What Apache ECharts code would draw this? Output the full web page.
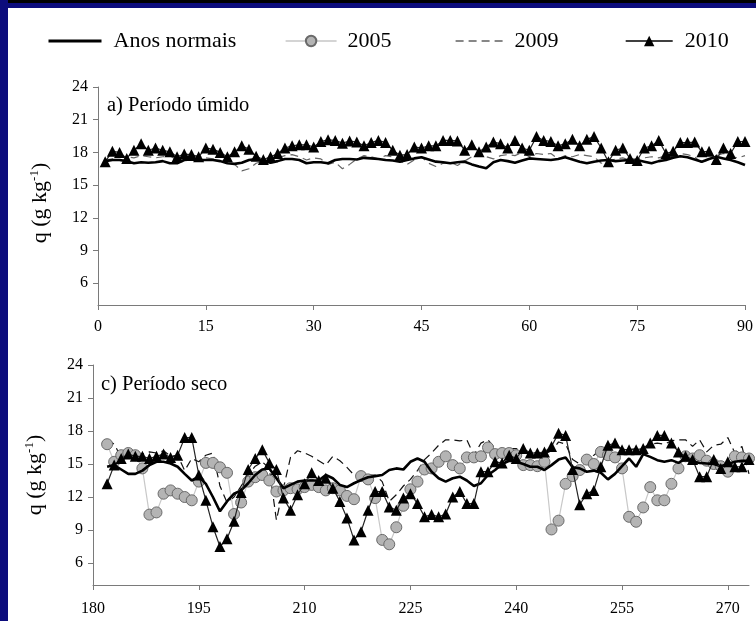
<!DOCTYPE html>
<html>
<head>
<meta charset="utf-8">
<script src="https://cdn.jsdelivr.net/npm/echarts@6/dist/echarts.min.js"></script>
<style>
  html, body { margin: 0; padding: 0; background: #fff; }
  #chart { width: 756px; height: 621px; }
</style>
</head>
<body>
<div id="chart"></div>
<script>
  // a) Período úmido, dias 1..90
  const wetStart = 1
  const wetNormais = [
    17.2, 17.3, 17.3, 17.2, 17.0, 17.1, 17.05, 17.1, 17.2, 17.0,
    17.0, 17.3, 17.35, 17.3, 17.3, 17.3, 17.2, 17.0, 16.95, 17.05,
    17.3, 17.4, 17.2, 17.05, 17.2, 17.4, 17.4, 17.3, 17.0, 17.1,
    17.1, 17.0, 17.3, 17.4, 17.4, 17.35, 17.5, 17.45, 17.4, 17.3,
    17.25, 17.15, 17.3, 17.45, 17.55, 17.35, 17.15, 17.1, 17.0, 17.1,
    17.15, 16.9, 16.7, 16.55, 17.1, 17.3, 17.2, 17.05, 17.25, 17.45,
    17.4, 17.35, 17.3, 17.4, 17.55, 17.35, 17.15, 17.0, 17.15, 17.25,
    17.3, 17.2, 17.25, 17.3, 17.3, 17.15, 17.0, 17.2, 17.3, 17.5,
    17.65, 17.55, 17.35, 17.15, 17.4, 17.6, 17.45, 17.3, 17.1, 16.85
  ]
  const wet2009 = [
    17.3, 17.4, 17.6, 17.6, 17.5, 17.7, 17.6, 17.5, 17.6, 17.7,
    17.3, 17.5, 17.6, 17.7, 17.5, 17.4, 17.2, 17.1, 16.9, 16.3,
    16.5, 17.0, 17.2, 17.3, 17.5, 17.7, 17.8, 17.6, 17.3, 17.5,
    17.4, 16.9, 17.1, 16.5, 16.9, 17.4, 17.7, 17.6, 17.4, 17.7,
    17.6, 17.2, 16.9, 17.3, 17.6, 17.0, 16.7, 17.0, 17.1, 16.8,
    17.2, 17.6, 18.0, 17.6, 17.4, 17.7, 17.8, 17.7, 18.0, 17.6,
    17.9, 17.8, 17.9, 17.4, 17.7, 17.6, 17.8, 17.7, 17.6, 17.0,
    17.2, 17.4, 17.5, 17.3, 17.4, 17.5, 17.6, 17.5, 17.7, 17.6,
    17.9, 17.8, 17.6, 17.0, 17.4, 17.7, 17.9, 17.6, 17.5, 17.7
  ]
  const wet2010 = [
    17.15, 18.1, 18.0, 17.45, 18.2, 18.8, 18.2, 18.4, 18.2, 18.05,
    17.6, 17.85, 17.8, 17.6, 18.4, 18.3, 18.0, 17.6, 18.05, 18.6,
    18.3, 17.65, 17.35, 17.6, 17.9, 18.4, 18.6, 18.7, 18.7, 18.5,
    19.0, 19.15, 19.1, 18.85, 19.05, 18.95, 18.6, 18.9, 19.1, 18.9,
    18.2, 17.75, 17.8, 18.5, 18.4, 18.6, 18.6, 19.1, 19.1, 19.05,
    18.2, 18.7, 18.05, 18.5, 18.95, 18.8, 18.4, 19.1, 18.4, 18.2,
    19.45, 19.1, 19.0, 18.6, 18.8, 19.2, 18.6, 19.2, 19.45, 18.4,
    17.15, 18.2, 18.4, 17.45, 17.25, 18.4, 18.6, 19.1, 17.9, 18.1,
    18.9, 18.9, 18.95, 18.05, 18.1, 17.35, 18.4, 17.9, 19.0, 19.0
  ]

  // c) Período seco, dias 182..273
  const dryStart = 182
  const dryNormais = [
    14.75, 14.9, 14.5, 14.1, 14.1, 14.4, 14.9, 15.2, 15.2, 15.05,
    14.75, 14.1, 13.5, 13.85, 13.2, 12.0, 10.7, 11.6, 12.3, 12.6,
    13.25, 14.0, 14.5, 14.6, 13.7, 12.8, 13.1, 13.4, 13.5, 13.5,
    13.5, 14.0, 13.7, 13.1, 12.9, 13.25, 13.55, 13.8, 13.9, 14.0,
    14.45, 14.6, 14.5, 15.2, 15.5, 15.2, 14.3, 13.7, 13.4, 13.7,
    13.85, 13.5, 13.0, 13.25, 14.0, 14.45, 15.0, 15.3, 15.2, 15.0,
    14.75, 14.75, 14.45, 14.9, 15.4, 15.6, 14.7, 14.6, 14.3, 14.4,
    14.2, 13.6, 14.1, 14.8, 15.5, 14.75, 15.9, 15.65, 15.35, 15.2,
    15.35, 15.1, 15.5, 15.2, 15.1, 15.05, 15.0, 14.8, 15.0, 15.2,
    15.3, 15.3
  ]
  const dry2005 = [
    16.8, 15.2, 15.8, 16.0, 15.8, 14.6, 10.4, 10.6, 12.3, 12.6,
    12.3, 12.0, 11.7, 13.4, 15.1, 15.1, 14.7, 14.2, 10.45, 11.5,
    13.4, 13.8, 14.0, 13.5, 12.5, 12.6, 12.8, 12.7, 12.9, 13.1,
    12.9, 12.6, 12.8, 12.6, 12.1, 11.8, 13.9, 13.6, 11.9, 8.1,
    7.7, 9.25, 11.2, 12.7, 13.4, 14.5, 14.6, 15.2, 15.7, 14.9,
    14.6, 15.6, 15.6, 15.7, 16.5, 15.9, 16.0, 16.0, 15.8, 14.9,
    14.9, 14.8, 15.2, 9.05, 9.85, 13.2, 13.9, 14.45, 15.4, 15.0,
    16.1, 15.8, 15.6, 14.6, 10.2, 9.75, 11.05, 12.9, 11.7, 11.7,
    13.2, 14.6, 15.7, 15.5, 15.8, 15.3, 15.0, 14.8, 14.3, 15.7,
    15.6, 15.5
  ]
  const dry2009 = [
    17.2, 16.8, 15.6, 15.9, 16.0, 15.9, 16.1, 16.0, 16.2, 15.7,
    15.8, 14.4, 15.5, 15.2, 15.8, 16.0, 13.0, 11.5, 12.0, 13.0,
    14.0, 14.8, 15.2, 14.6, 9.9, 12.8, 15.6, 16.2, 16.0, 15.7,
    15.3, 14.9, 15.7, 15.3, 14.7, 14.0, 13.8, 14.0, 14.0, 13.4,
    11.6, 12.2, 13.0, 13.6, 14.4, 15.4, 16.0, 16.7, 17.2, 17.2,
    17.1, 17.2, 15.8, 16.9, 17.2, 16.4, 16.2, 16.4, 16.4, 16.0,
    16.1, 16.0, 15.9, 16.2, 17.0, 16.8, 15.4, 15.0, 15.6, 15.8,
    16.3, 16.5, 16.6, 16.4, 16.3, 16.4, 16.5, 16.8, 16.9, 16.8,
    17.1, 17.2, 17.2, 16.6, 17.2, 16.1, 16.7, 16.8, 17.4, 16.0,
    16.6, 14.1
  ]
  const dry2010 = [
    13.2, 14.9, 15.5, 15.9, 15.7, 15.7, 15.5, 15.7, 15.9, 15.6,
    15.8, 17.4, 17.4, 14.0, 11.7, 9.3, 7.5, 8.2, 9.8, 12.4,
    14.5, 15.5, 16.3, 15.1, 14.5, 11.9, 10.8, 12.2, 13.2, 14.2,
    13.5, 13.7, 12.8, 11.6, 10.1, 8.1, 8.85, 10.8, 12.5, 12.5,
    11.1, 10.8, 11.9, 12.3, 11.4, 10.2, 10.4, 10.2, 10.45, 12.0,
    12.5, 11.4, 11.4, 14.3, 14.3, 15.2, 15.1, 15.8, 15.5, 16.4,
    16.0, 16.0, 16.1, 16.6, 17.8, 17.6, 14.5, 11.3, 12.3, 12.6,
    14.75, 16.7, 16.9, 16.3, 16.3, 16.3, 16.4, 16.9, 17.6, 17.6,
    16.9, 16.1, 15.7, 15.4, 13.85, 13.85, 15.4, 14.6, 15.2, 14.75,
    14.75, 15.4
  ]

  const yTicks = [6, 9, 12, 15, 18, 21, 24]
  const legendNames = ['Anos normais', '2005', '2009', '2010']

  function pairs(start, values) {
    return values.map((v, i) => [start + i, v])
  }

  const serif = 'Liberation Serif'
  const axisColor = '#7a7a7a'
  const myChart = echarts.init(document.getElementById('chart'), null, {renderer: 'canvas'})

  function xAxisOf(gridIndex, min, max, margin) {
    return {
      type: 'value', gridIndex: gridIndex, min: min, max: max, interval: 15,
      axisLine: {show: true, lineStyle: {color: axisColor, width: 1}},
      axisTick: {show: true, length: 5, lineStyle: {color: axisColor}},
      axisLabel: {
        color: '#000', fontFamily: serif, fontSize: 16, margin: margin,
        showMaxLabel: max % 15 === 0
      },
      splitLine: {show: false}
    }
  }
  function yAxisOf(gridIndex, shift) {
    return {
      type: 'value', gridIndex: gridIndex, min: 4, max: 24,
      name: '{a|q (g kg}{s|-1}{a|)}',
      nameLocation: 'middle', nameGap: 46, nameRotate: 90,
      nameTextStyle: {
        padding: [0, shift, 0, 0],
        rich: {
          a: {fontFamily: serif, fontSize: 22, color: '#000', lineHeight: 24},
          s: {fontFamily: serif, fontSize: 13, color: '#000', verticalAlign: 'top', lineHeight: 12}
        }
      },
      axisLine: {show: true, lineStyle: {color: axisColor, width: 1}},
      axisTick: {show: true, length: 5, customValues: yTicks, lineStyle: {color: axisColor}},
      axisLabel: {color: '#000', fontFamily: serif, fontSize: 16, margin: 10, customValues: yTicks},
      splitLine: {show: false}
    }
  }

  function normaisSeries(ax, data) {
    return {
      name: 'Anos normais', type: 'line', xAxisIndex: ax, yAxisIndex: ax, data: data,
      symbol: 'none', z: 4, lineStyle: {color: '#000', width: 2.6}, itemStyle: {color: '#000'}
    }
  }
  function s2005(ax, data) {
    return {
      name: '2005', type: 'line', xAxisIndex: ax, yAxisIndex: ax, data: data,
      symbol: 'circle', symbolSize: 11, z: 3,
      lineStyle: {color: '#c8c8c8', width: 1.2},
      itemStyle: {color: '#b4b4b4', borderColor: '#6a6a6a', borderWidth: 1}
    }
  }
  function s2009(ax, data, color) {
    return {
      name: '2009', type: 'line', xAxisIndex: ax, yAxisIndex: ax, data: data,
      symbol: 'none', z: 2,
      lineStyle: {color: color, width: 1.2, type: [8, 5]}, itemStyle: {color: color}
    }
  }
  function s2010(ax, data) {
    return {
      name: '2010', type: 'line', xAxisIndex: ax, yAxisIndex: ax, data: data,
      symbol: 'triangle', symbolSize: 11, z: 5,
      lineStyle: {color: '#222', width: 1.2}, itemStyle: {color: '#000'}
    }
  }

  function legendOf(name, left, width, pad, noSymbol, lineStyle) {
    const item = {name: name}
    if (noSymbol) item.itemStyle = {color: 'transparent', borderWidth: 0}
    if (lineStyle) item.lineStyle = lineStyle
    return {
      data: [item], left: left, top: 30, padding: 0, itemWidth: width, itemHeight: 13,
      selectedMode: false,
      textStyle: {fontFamily: serif, fontSize: 22, color: '#000', padding: [0, 0, 0, pad]}
    }
  }

  const option = {
    backgroundColor: '#fff',
    animation: false,
    graphic: [
      {type: 'rect', left: 0, top: 0, shape: {width: 756, height: 8}, style: {fill: '#0c0c7c'}},
      {type: 'rect', left: 0, top: 0, shape: {width: 756, height: 3}, style: {fill: '#000'}},
      {type: 'rect', left: 0, top: 0, shape: {width: 8, height: 621}, style: {fill: '#0c0c7c'}},
      {type: 'text', left: 107, top: 95, style: {text: 'a) Período úmido', font: '20.5px "Liberation Serif"', fill: '#000'}},
      {type: 'text', left: 101, top: 374, style: {text: 'c) Período seco', font: '20.5px "Liberation Serif"', fill: '#000'}}
    ],
    legend: [
      legendOf(legendNames[0], 47, 53, 7, true, {color: '#000', width: 3}),
      legendOf(legendNames[1], 285, 51, 6, false, {color: '#aaa', width: 1.2}),
      legendOf(legendNames[2], 455, 50, 4, true, {color: '#111', width: 1.2, type: [8, 5]}),
      legendOf(legendNames[3], 625, 47, 7, false, {color: '#000', width: 1.4})
    ],
    grid: [
      {left: 98, top: 87, width: 649, height: 218},
      {left: 93, top: 365, width: 656, height: 220}
    ],
    xAxis: [xAxisOf(0, 0, 90, 14), xAxisOf(1, 180, 273, 16)],
    yAxis: [yAxisOf(0, 14), yAxisOf(1, 0)],
    series: [
      s2009(0, pairs(wetStart, wet2009), '#666'),
      normaisSeries(0, pairs(wetStart, wetNormais)),
      s2010(0, pairs(wetStart, wet2010)),
      s2009(1, pairs(dryStart, dry2009), '#111'),
      s2005(1, pairs(dryStart, dry2005)),
      normaisSeries(1, pairs(dryStart, dryNormais)),
      s2010(1, pairs(dryStart, dry2010))
    ]
  }
  myChart.setOption(option)
</script>
</body>
</html>
